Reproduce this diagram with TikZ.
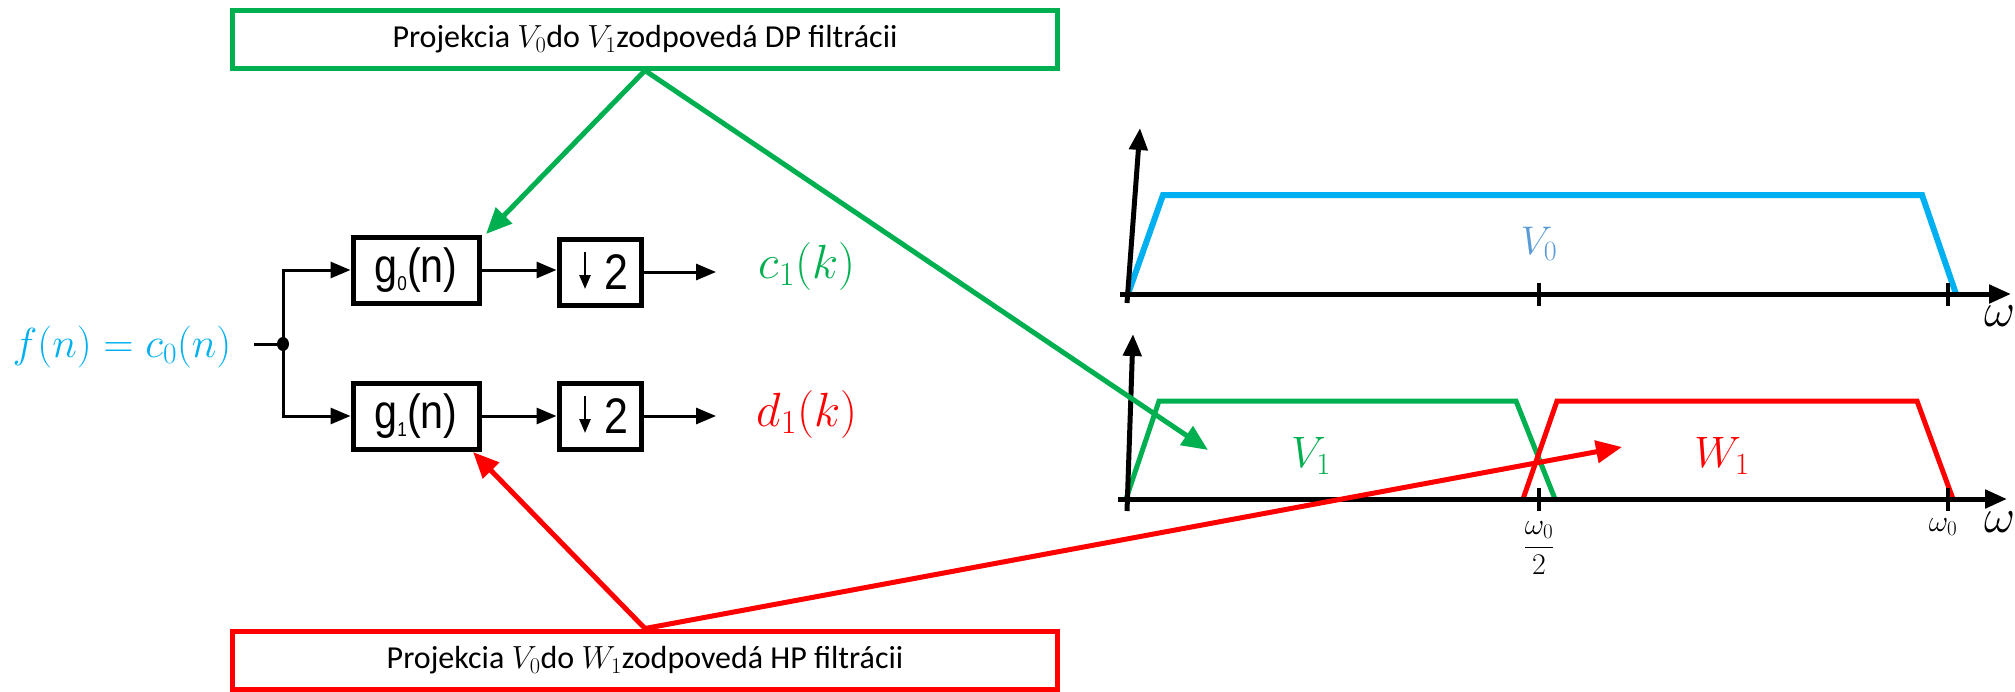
\RequirePackage{fix-cm}
\documentclass[tikz,border=0pt]{standalone}
\usepackage{fontspec}
\setmainfont{Carlito}
\newfontfamily\arialf{Liberation Sans}
\usetikzlibrary{arrows.meta}
\definecolor{mygreen}{RGB}{0,176,80}
\definecolor{mycyan}{RGB}{0,176,240}
\definecolor{myred}{RGB}{255,0,0}
\definecolor{vblue}{RGB}{91,155,213}
\newcommand{\narrowtxt}[1]{\scalebox{0.86}[1]{#1}}
\begin{document}
\begin{tikzpicture}[x=1pt,y=-1pt,
  infobox/.style={draw=#1, line width=5pt, minimum width=825pt, minimum height=58pt, inner sep=0pt, font=\fontsize{32}{38}\selectfont},
  blk/.style={draw=black, line width=5pt, fill=white, inner sep=0pt, font=\arialf\fontsize{48}{56}\selectfont},
  sig/.style={line width=3pt, -{Triangle[length=20pt,width=16pt]}},
  bigarrow/.style={line width=5pt, draw=#1, -{Triangle[length=26pt,width=22pt]}, fill=#1},
  axisline/.style={line width=5pt, -{Triangle[length=22pt,width=18pt]}},
  tick/.style={line width=4pt},
  band/.style={line width=5pt, draw=#1},
  mathlbl/.style={text=#1, inner sep=0pt},
]
\useasboundingbox (0,0) rectangle (2015,691);

% ---------- info boxes ----------
\node[infobox=mygreen] (gbox) at (645,39) {Projekcia $V_0$do $V_1$zodpovedá DP filtrácii};
\node[infobox=myred] (rbox) at (645,660) {Projekcia $V_0$do $W_1$zodpovedá HP filtrácii};

% ---------- block diagram ----------
\node[mathlbl=mycyan, font=\fontsize{42}{50}\selectfont] (fn) at (122,347) {$f(n)=c_0(n)$};
\coordinate (inp) at (254,344);
\coordinate (split) at (283,344);

\node[blk, minimum width=126pt, minimum height=66pt] (g0) at (416,270) {\narrowtxt{g\raisebox{-8pt}{\fontsize{20}{20}\selectfont 0}(n)}};
\node[blk, minimum width=126pt, minimum height=66pt] (g1) at (416,416) {\narrowtxt{g\raisebox{-8pt}{\fontsize{20}{20}\selectfont 1}(n)}};
\node[blk, minimum width=82pt, minimum height=66pt] (d0) at (600,272) {};
\node[blk, minimum width=82pt, minimum height=66pt] (d1) at (600,416) {};
\node[font=\arialf\fontsize{50}{56}\selectfont, inner sep=0pt] (d0t) at (616,272) {\narrowtxt{2}};
\node[font=\arialf\fontsize{50}{56}\selectfont, inner sep=0pt] (d1t) at (616,416) {\narrowtxt{2}};
\draw[line width=2.5pt, -{Triangle[length=14pt,width=11pt]}] ([shift={(-15,-20)}]d0.center) -- ([shift={(-15,17)}]d0.center);
\draw[line width=2.5pt, -{Triangle[length=14pt,width=11pt]}] ([shift={(-15,-20)}]d1.center) -- ([shift={(-15,17)}]d1.center);

\coordinate (c0end) at (716,272);
\coordinate (c1end) at (716,416);
\node[mathlbl=mygreen, font=\fontsize{48}{56}\selectfont] (c1) at (807,266) {$c_1(k)$};
\node[mathlbl=myred, font=\fontsize{48}{56}\selectfont] (dk) at (807,414) {$d_1(k)$};

\draw[line width=3pt] (inp) -- (split);
\fill (split) ellipse (6pt and 7pt);
\draw[sig] (split) |- (g0.west);
\draw[sig] (split) |- (g1.west);
\draw[sig] (g0.east) -- (g0.east -| d0.west);
\draw[sig] (g1.east) -- (d1.west);
\draw[sig] (d0.east) -- (c0end);
\draw[sig] (d1.east) -- (c1end);

% ---------- top spectrum ----------
\coordinate (ya0) at (1127,303);
\coordinate (ya1) at (1140,128);
\coordinate (xa0) at (1120,294);
\coordinate (xa1) at (2011,294);
\draw[band=mycyan, line width=6pt] (1128,294) -- (1163,195) -- (1922,195) -- (1956,294);
\draw[axisline] (ya0) -- (ya1);
\draw[axisline] (xa0) -- (xa1);
\draw[tick] (1539,283) -- (1539,306);
\draw[tick] (1948,283) -- (1948,306);
\node[mathlbl=vblue, font=\fontsize{40}{48}\selectfont] (v0) at (1539,244) {$V_0$};
\node[mathlbl=black, font=\fontsize{48}{56}\selectfont] (om1) at (2000,316) {$\omega$};

% ---------- bottom spectrum ----------
\coordinate (yb0) at (1127,511);
\coordinate (yb1) at (1133,334);
\coordinate (xb0) at (1118,499);
\coordinate (xb1) at (2007,499);
\draw[band=mygreen] (1126,499) -- (1159,401) -- (1516,401) -- (1555,499);
\draw[band=myred] (1523,499) -- (1557,401) -- (1917,401) -- (1953,499);
\draw[axisline] (yb0) -- (yb1);
\draw[axisline] (xb0) -- (xb1);
\draw[tick] (1539,488) -- (1539,511);
\draw[tick] (1948,488) -- (1948,511);
\node[mathlbl=mygreen, font=\fontsize{44}{52}\selectfont] (v1) at (1311,456) {$V_1$};
\node[mathlbl=myred, font=\fontsize{44}{52}\selectfont] (w1) at (1722,456) {$W_1$};
\node[mathlbl=black, font=\fontsize{48}{56}\selectfont] (om2) at (2000,522) {$\omega$};
\node[mathlbl=black, font=\fontsize{30}{36}\selectfont] (half) at (1539,548) {$\displaystyle\frac{\omega_0}{2}$};
\node[mathlbl=black, font=\fontsize{30}{36}\selectfont] (om0) at (1943,527) {$\omega_0$};

% ---------- projection arrows ----------
\coordinate (gA) at (486,234);
\coordinate (gB) at (1208,450);
\coordinate (rA) at (473,452);
\coordinate (rB) at (1622,447);
\draw[bigarrow=mygreen] (gbox.south) -- (gA);
\draw[bigarrow=mygreen] (gbox.south) -- (gB);
\draw[bigarrow=myred] (rbox.north) -- (rA);
\draw[bigarrow=myred] (rbox.north) -- (rB);
\end{tikzpicture}
\end{document}
